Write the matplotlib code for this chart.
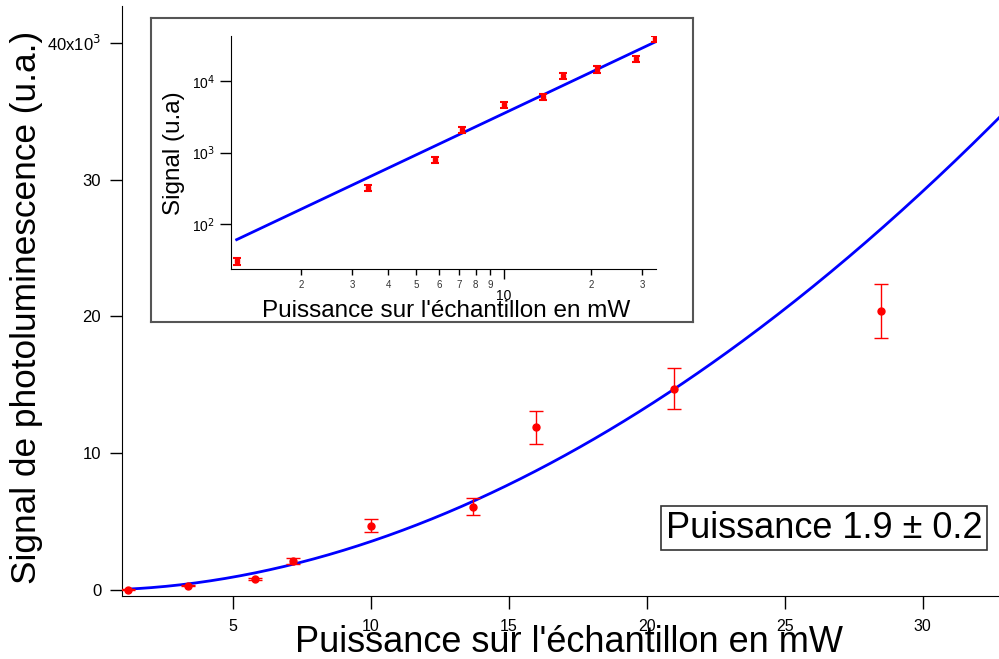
import numpy as np
import matplotlib
matplotlib.use("Agg")
import matplotlib.pyplot as plt

plt.rcParams['font.family'] = ['Liberation Sans', 'DejaVu Sans']

# puissance (mW) et signal de photoluminescence (u.a.)
puissance = [1.2, 3.4, 5.8, 7.2, 10.0, 13.7, 16.0, 21.0, 28.5, 33.2]
signal = [30, 320, 800, 2100, 4700, 6100, 11900, 14700, 20400, 39000]
erreur = [3, 30, 80, 210, 470, 610, 1200, 1500, 2000, 3900]

# ajustement en loi de puissance : A * P**n
fit_A = 42.5
fit_n = 1.92

main_yticks = [0, 10000, 20000, 30000, 40000]
main_ylabels = ['0', '10', '20', '30', r'40x10$^{3}$']
main_xticks = [5, 10, 15, 20, 25, 30]
inset_yticks = [1e2, 1e3, 1e4]
inset_ylabels = [r'10$^{2}$', r'10$^{3}$', r'10$^{4}$']
inset_minor = [2, 3, 4, 5, 6, 7, 8, 9, 20, 30]
inset_minor_labels = ['2', '3', '4', '5', '6', '7', '8', '9', '2', '3']

red = '#ff0000'
blue = '#0000ff'

pf = np.linspace(puissance[0], puissance[-1], 300)
sf = fit_A * pf**fit_n

fig = plt.figure(figsize=(9.99, 6.59), dpi=100)

# graphe principal
ax = fig.add_axes([0.1221, 0.0961, 0.8779, 0.8948])
ax.plot(pf, sf, color=blue, lw=2, zorder=2)
ax.errorbar(puissance, signal, yerr=erreur, fmt='o', color=red, ms=5,
            elinewidth=1, capsize=5, capthick=1, zorder=3)
ax.set_xlim(0.99, 32.77)
ax.set_ylim(-420, 42700)
ax.set_xticks(main_xticks)
ax.set_yticks(main_yticks)
ax.set_yticklabels(main_ylabels)
ax.spines['top'].set_visible(False)
ax.spines['right'].set_visible(False)
ax.tick_params(direction='out', length=9, width=1, labelsize=12, pad=6)
ax.tick_params(axis='x', labelsize=11.5, pad=8)

fig.text(0.5696, 0.0106, "Puissance sur l'échantillon en mW", fontsize=26,
         ha='center', va='baseline')
fig.text(0.027, 0.534, "Signal de photoluminescence (u.a.)", fontsize=25.4,
         rotation=90, ha='center', va='center')

fig.text(0.8248, 0.1985, u"Puissance 1.9 \u00b1 0.2", fontsize=26,
         ha='center', va='center',
         bbox=dict(boxstyle='square,pad=0.12', fc='white', ec='#333333', lw=1.2))

# cadre de l'encart
frame = fig.add_axes([0.1512, 0.5114, 0.5425, 0.4613])
frame.set_xticks([])
frame.set_yticks([])
for s in frame.spines.values():
    s.set_color('#555555')
    s.set_linewidth(1.5)

# encart log-log
ins = fig.add_axes([0.2312, 0.5914, 0.4251, 0.3536])
ins.set_xscale('log')
ins.set_yscale('log')
ins.plot(pf, sf, color=blue, lw=2, zorder=2)
ins.errorbar(puissance, signal, yerr=erreur, fmt='s', color=red, ms=3.5,
             elinewidth=2, capsize=3, capthick=1.5, zorder=3)
ins.set_xlim(1.147, 33.4)
ins.set_ylim(23.2, 42700)
ins.spines['top'].set_visible(False)
ins.spines['right'].set_visible(False)
ins.set_yticks(inset_yticks)
ins.set_yticklabels(inset_ylabels)
ins.yaxis.set_minor_locator(matplotlib.ticker.NullLocator())
ins.set_xticks([10])
ins.set_xticklabels(['10'])
ins.set_xticks(inset_minor, minor=True)
ins.set_xticklabels(inset_minor_labels, minor=True)
ins.tick_params(axis='y', direction='out', length=8, width=1, labelsize=10)
ins.tick_params(axis='x', which='major', direction='out', length=7, width=1,
                labelsize=10, pad=7)
ins.tick_params(axis='x', which='minor', direction='out', length=4.5, width=1,
                labelsize=7, pad=3, labelcolor='#333333')
ins.set_ylabel("Signal (u.a)", fontsize=17.5, labelpad=5)
fig.text(0.4470, 1 - 317 / 659, "Puissance sur l'échantillon en mW",
         fontsize=17.5, ha='center', va='baseline')

fig.savefig('out.png', dpi=100)
